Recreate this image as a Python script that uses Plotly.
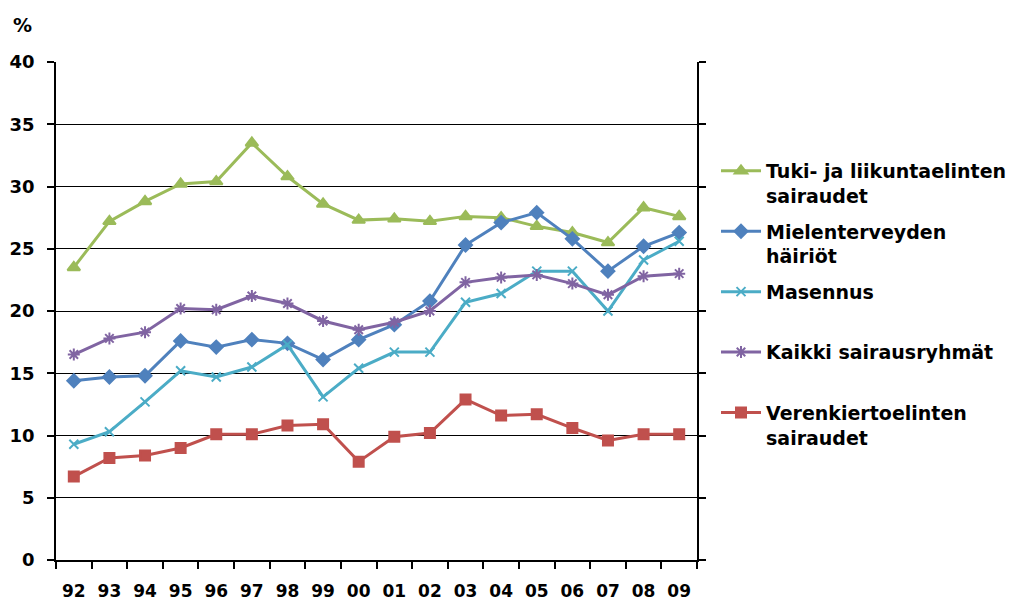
import plotly.graph_objects as go

years = ["92", "93", "94", "95", "96", "97", "98", "99", "00", "01",
         "02", "03", "04", "05", "06", "07", "08", "09"]

tuki = [23.5, 27.2, 28.8, 30.2, 30.4, 33.5, 30.8, 28.6, 27.3, 27.4,
        27.2, 27.6, 27.5, 26.8, 26.3, 25.5, 28.3, 27.6]
mielen = [14.4, 14.7, 14.8, 17.6, 17.1, 17.7, 17.4, 16.1, 17.7, 18.9,
          20.8, 25.3, 27.1, 27.9, 25.8, 23.2, 25.2, 26.3]
masennus = [9.3, 10.3, 12.7, 15.2, 14.7, 15.5, 17.3, 13.1, 15.4, 16.7,
            16.7, 20.7, 21.4, 23.2, 23.2, 20.0, 24.1, 25.6]
kaikki = [16.5, 17.8, 18.3, 20.2, 20.1, 21.2, 20.6, 19.2, 18.5, 19.1,
          20.0, 22.3, 22.7, 22.9, 22.2, 21.3, 22.8, 23.0]
veren = [6.7, 8.2, 8.4, 9.0, 10.1, 10.1, 10.8, 10.9, 7.9, 9.9,
         10.2, 12.9, 11.6, 11.7, 10.6, 9.6, 10.1, 10.1]

names = ["Tuki- ja liikuntaelinten<br>sairaudet",
         "Mielenterveyden<br>häiriöt",
         "Masennus<br> ",
         "Kaikki sairausryhmät<br> ",
         "Verenkiertoelinten<br>sairaudet"]
colors = ["#9BBB59", "#4F81BD", "#4BACC6", "#8064A2", "#C0504D"]
symbols = ["triangle-up", "diamond", "x-thin-open", "asterisk-open", "square"]
sizes = [11, 10, 9, 10, 10]
series = [tuki, mielen, masennus, kaikki, veren]

L, R, T, B = 56, 697, 62, 560
W, H = 1017, 605

fig = go.Figure()
for i, (vals, name, col, sym, sz) in enumerate(zip(series, names, colors, symbols, sizes)):
    fig.add_trace(go.Scatter(
        x=years, y=vals, name=name, mode="lines+markers",
        line=dict(color=col, width=3),
        marker=dict(symbol=sym, size=sz, color=col, line=dict(color=col, width=2)),
        legendgroup=f"g{i}",
    ))

fig.update_layout(
    width=W, height=H,
    margin=dict(l=L, r=W - R, t=T, b=H - B, autoexpand=False),
    plot_bgcolor="white", paper_bgcolor="white",
    font=dict(family="DejaVu Sans", size=18, color="black"),
    showlegend=True,
    legend=dict(
        x=(716 - L) / (R - L), y=(B - 152) / (B - T), xanchor="left", yanchor="top",
        font=dict(family="DejaVu Sans", size=19, color="black", weight="bold"),
        valign="top", traceorder="grouped", tracegroupgap=8,
        itemwidth=40, bgcolor="rgba(0,0,0,0)",
    ),
    annotations=[dict(
        text="<b>%</b>", x=(22 - L) / (R - L), y=(B - 25) / (B - T),
        xref="paper", yref="paper", xanchor="center", yanchor="middle",
        showarrow=False, font=dict(size=19, family="DejaVu Sans"),
    )],
)

fig.update_xaxes(
    type="category", range=[-0.5, len(years) - 0.5],
    showline=True, linecolor="black", linewidth=1.5,
    ticks="outside", tickson="boundaries", ticklen=7, tickcolor="black", tickwidth=1.5,
    showgrid=False, tickangle=0, automargin=False,
    tickfont=dict(family="DejaVu Sans", size=17, weight="bold"),
    ticklabelstandoff=15,
)
fig.update_yaxes(
    range=[0, 40], dtick=5, showline=True, linecolor="black", linewidth=1.5,
    mirror="ticks", ticks="outside", ticklen=7, tickcolor="black", tickwidth=1.5,
    showgrid=True, gridcolor="black", gridwidth=1.2, zeroline=False, automargin=False,
    tickfont=dict(family="DejaVu Sans", size=18, weight="bold"),
    ticklabelstandoff=9,
)

fig.write_html("out.html")
